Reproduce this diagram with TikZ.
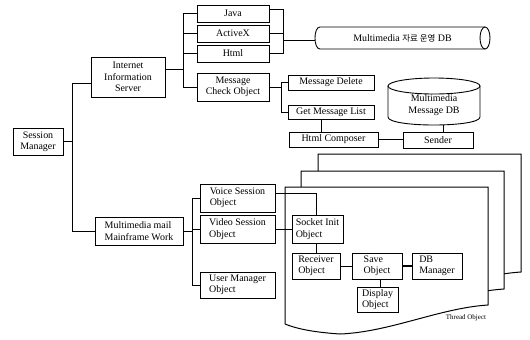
\documentclass[tikz,border=0pt]{standalone}
\usepackage{fontspec}
\setmainfont{Liberation Serif}
\newfontfamily\kofont{Noto Sans CJK KR}
\begin{document}
\begin{tikzpicture}[x=1bp,y=-1bp,
  every node/.style={font=\fontsize{10}{11.5}\selectfont},
  box/.style={draw,line width=0.9pt,inner sep=1pt,align=center},
  lbox/.style={box,align=left},
  wire/.style={line width=0.8pt},
  db/.style={line width=0.9pt},
  pg/.style={draw,fill=white,line width=1pt,line join=miter}]
\useasboundingbox (0,0) rectangle (530,339);

% thread object pages
\begin{scope}[shift={(33,-33)}]
\draw[pg] (285,187) -- (488,187) -- (488,305) .. controls (440,308) and (390,332) .. (340,334) .. controls (310,332) and (295,328) .. (285,324) -- cycle;
\end{scope}
\begin{scope}[shift={(16,-16)}]
\draw[pg] (285,187) -- (488,187) -- (488,305) .. controls (440,308) and (390,332) .. (340,334) .. controls (310,332) and (295,328) .. (285,324) -- cycle;
\end{scope}
\draw[pg] (285,187) -- (488,187) -- (488,305) .. controls (440,308) and (390,332) .. (340,334) .. controls (310,332) and (295,328) .. (285,324) -- cycle;
\node[font=\fontsize{7}{8}\selectfont] (thr) at (466,318) {Thread Object};

% nodes
\node[box,minimum width=50bp,minimum height=27bp] (sm) at (38,141.5) {Session\\Manager};
\node[box,minimum width=74bp,minimum height=40bp] (iis) at (128,77) {Internet\\Information\\Server};
\node[lbox,minimum width=88bp,minimum height=28bp] (mmw) at (139,231) {Multimedia mail\\Mainframe Work};
\node[box,minimum width=72bp,minimum height=17bp] (java) at (233,13.5) {Java};
\node[box,minimum width=72bp,minimum height=17bp] (activex) at (233,33.5) {ActiveX};
\node[box,minimum width=72bp,minimum height=17bp] (html) at (233,53.5) {Html};
\node[box,minimum width=72bp,minimum height=28bp] (mco) at (233,87) {Message\\Check Object};
\node[box,minimum width=86bp,minimum height=15bp] (mdel) at (331,82.5) {Message Delete};
\node[box,minimum width=86bp,minimum height=14bp] (gml) at (331,112.5) {Get Message List};
\node[box,minimum width=89bp,minimum height=15bp] (hc) at (333.5,139.5) {Html Composer};
\node[box,minimum width=70bp,minimum height=16bp] (sender) at (438,140) {Sender};
\node[lbox,minimum width=75bp,minimum height=28bp] (voice) at (237.5,198) {Voice Session\\Object};
\node[lbox,minimum width=75bp,minimum height=28bp] (video) at (237.5,229) {Video Session\\Object};
\node[lbox,minimum width=75bp,minimum height=26bp] (user) at (237.5,285) {User Manager\\Object};
\node[lbox,minimum width=51bp,minimum height=28bp] (socket) at (317.5,229) {Socket Init\\Object};
\node[lbox,minimum width=48bp,minimum height=26bp] (recv) at (316,266) {Receiver\\Object};
\node[lbox,minimum width=50bp,minimum height=26bp] (save) at (377,266) {Save\\Object};
\node[lbox,minimum width=50bp,minimum height=26bp] (dbm) at (437,266) {DB\\Manager};
\node[lbox,minimum width=41bp,minimum height=25bp] (disp) at (377.5,299.5) {Display\\Object};

% databases
\node[align=center,minimum width=92bp,minimum height=40bp,inner sep=0] (mdb) at (434,105) {Multimedia\\Message DB};
\draw[db] (434,86) ellipse [x radius=46, y radius=8];
\draw[db] (388,86) -- (388,117) .. controls (388,127.67) and (480,127.67) .. (480,117) -- (480,86);
\node[minimum width=175bp,minimum height=22bp,inner sep=0] (jdb) at (402.5,38) {Multimedia {\kofont\fontsize{8.5}{10}\selectfont 자료 운영} DB};
\draw[db] (485,27) -- (320,27) .. controls (313.3,27) and (313.3,49) .. (320,49) -- (485,49);
\draw[db] (485,38) ellipse [x radius=5, y radius=11];

% connectors
\coordinate (t1) at (72,83);
\coordinate (t2) at (72,231);
\draw[wire] (sm.east) -- (sm.east -| t1);
\draw[wire] (t1) -- (t2);
\draw[wire] (t1) -- (t1 -| iis.west);
\draw[wire] (t2) -- (t2 -| mmw.west);

\coordinate (i1) at (183,69);
\draw[wire] (iis.east |- i1) -- (i1);
\draw[wire] (i1 |- java) -- (i1 |- mco);
\draw[wire] (i1 |- java) -- (java.west);
\draw[wire] (i1 |- activex) -- (activex.west);
\draw[wire] (i1 |- html) -- (html.west);
\draw[wire] (i1 |- mco) -- (mco.west);

\coordinate (ja) at (283,9);
\coordinate (jb) at (283,40);
\draw[wire] (java.east |- ja) -- (ja) -- (ja |- html);
\draw[wire] (activex.east) -- (activex.east -| ja);
\draw[wire] (html.east) -- (html.east -| ja);
\draw[wire] (jb) -- (jb -| jdb.west);

\coordinate (ma) at (281,87);
\draw[wire] (mco.east) -- (ma);
\draw[wire] (ma |- mdel) -- (ma |- gml);
\draw[wire] (ma |- mdel) -- (mdel.west);
\draw[wire] (ma |- gml) -- (gml.west);

\coordinate (gx) at (321,0);
\draw[wire] (gml.south -| gx) -- (hc.north -| gx);
\draw[wire] (hc.east) -- (hc.east -| sender.west);
\coordinate (sx) at (443,0);
\draw[wire] (mdb.south -| sx) -- (sender.north -| sx);

\coordinate (mm) at (192,231);
\draw[wire] (mmw.east) -- (mm);
\draw[wire] (mm |- voice) -- (mm |- user);
\draw[wire] (mm |- voice) -- (voice.west);
\draw[wire] (mm |- video) -- (video.west);
\draw[wire] (mm |- user) -- (user.west);

\coordinate (vx) at (316,193);
\draw[wire] (voice.east |- vx) -- (vx) -- (socket.north -| vx);
\draw[wire] (video.east) -- (video.east -| socket.west);
\draw[wire] (socket.south -| vx) -- (recv.north -| vx);
\draw[wire] (recv.east) -- (save.west);
\draw[wire,line width=1.4pt] (save.east) -- (dbm.west);
\coordinate (dx) at (380,0);
\draw[wire] (save.south -| dx) -- (disp.north -| dx);
\end{tikzpicture}
\end{document}
